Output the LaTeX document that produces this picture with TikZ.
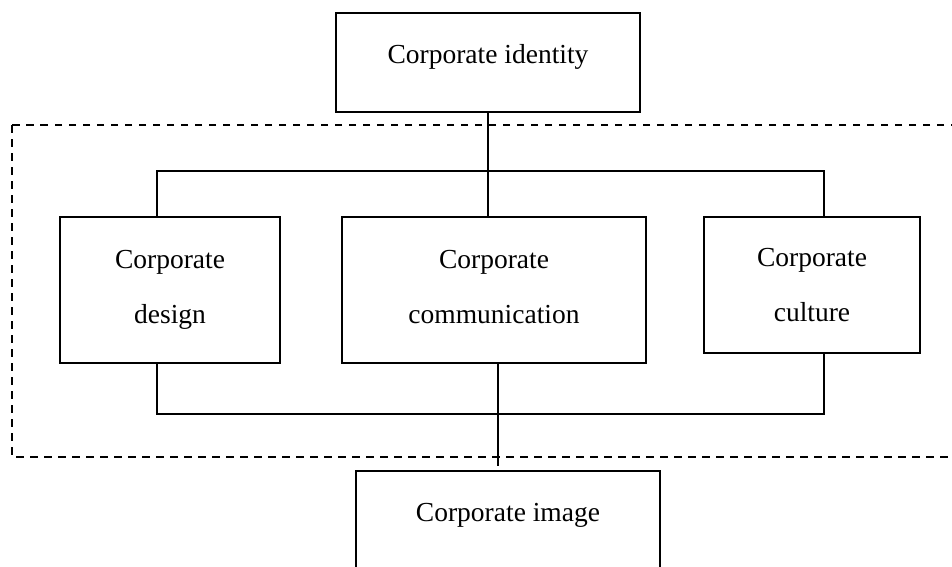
\documentclass[tikz,border=0pt]{standalone}
\usepackage{fontspec}
\setmainfont{Liberation Serif}
\usepackage{tikz}
\usetikzlibrary{positioning,calc}
\tikzset{
  unitbox/.style={draw=black,line width=1.6pt,align=center,inner sep=0pt,
    font=\fontsize{27.5}{55}\selectfont},
  singlebox/.style={unitbox,text height=19pt,text depth=18pt},
  busline/.style={draw=black,line width=1.3pt},
  groupframe/.style={draw=black,line width=1.5pt,dash pattern=on 7.5pt off 6.5pt}
}

\begin{document}
\begin{tikzpicture}[x=1pt,y=-1pt]
  \useasboundingbox (0,0) rectangle (952,566);
  \clip (0,0) rectangle (952,566);

  % dashed frame round the three parts
  \draw[groupframe] (12,125) rectangle (965,457);

  % top and bottom boxes
  \node[singlebox,minimum width=304pt,minimum height=99pt] (identity) at (488,62.5) {Corporate identity};
  \node[singlebox,minimum width=304pt,minimum height=99pt] (image) at (508,520.5) {Corporate image};

  % the three parts
  \node[unitbox,minimum width=220pt,minimum height=146pt] (design) at (170,290) {Corporate\\design};
  \node[unitbox,minimum width=304pt,minimum height=146pt] (comm) at (494,290) {Corporate\\communication\vphantom{g}};
  \node[unitbox,minimum width=216pt,minimum height=136pt] (culture) at (812,285) {Corporate\\culture};

  % connectors
  \coordinate (bustop) at (488,171);
  \coordinate (busbot) at (498,414);
  \draw[busline] (identity.south) -- (identity.south |- comm.north);
  \draw[busline] ([xshift=-13pt]design.north) |- (bustop) -| ([xshift=12pt]culture.north);
  \draw[busline] ([xshift=-13pt]design.south) |- (busbot) -| ([xshift=12pt]culture.south);
  \draw[busline] (busbot |- comm.south) -- ([yshift=4pt]busbot |- image.north);
\end{tikzpicture}
\end{document}
